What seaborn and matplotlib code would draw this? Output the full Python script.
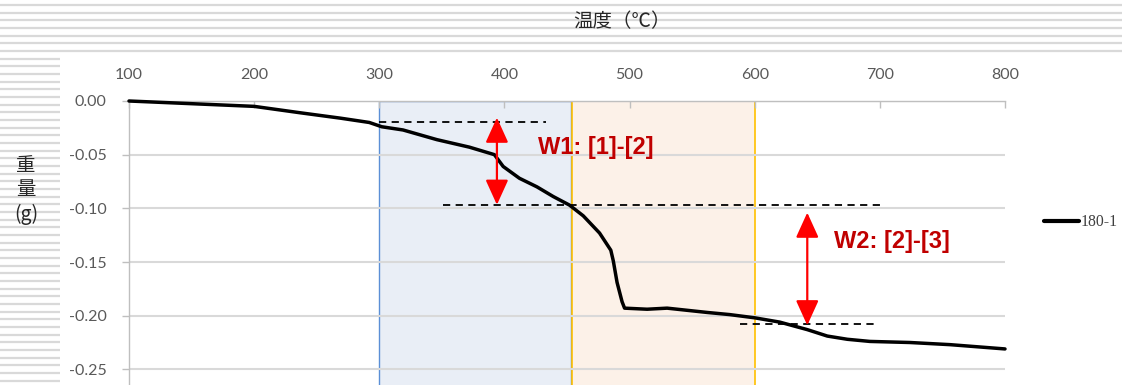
import numpy as np
import pandas as pd
import matplotlib
matplotlib.use("Agg")
import matplotlib.pyplot as plt
import seaborn as sns

# ---- data ----
temps = [100, 140, 200, 237, 269, 292, 302, 319, 346, 372, 392, 399, 412, 426, 439, 452,
         463, 476, 485, 487, 490, 494, 496, 514, 530, 562, 580, 600, 620, 642, 658, 674,
         692, 724, 756, 800]
weights = [0.000, -0.002, -0.005, -0.011, -0.016, -0.020, -0.024, -0.027, -0.036, -0.043,
           -0.050, -0.061, -0.072, -0.080, -0.089, -0.097, -0.107, -0.123, -0.139, -0.149,
           -0.169, -0.187, -0.193, -0.194, -0.193, -0.197, -0.199, -0.202, -0.206, -0.213,
           -0.219, -0.222, -0.224, -0.225, -0.227, -0.231]
series_name = "180-1"

x_ticks = [100, 200, 300, 400, 500, 600, 700, 800]
y_ticks = [0.00, -0.05, -0.10, -0.15, -0.20, -0.25]
grid_levels = [0.00, -0.05, -0.10, -0.15, -0.20, -0.25, -0.30]

# shaded temperature windows
span_start = [300, 454]
span_end = [453, 600]

# dashed reference levels
dash_y = [-0.0195, -0.0967, -0.208]
dash_x0 = [300, 351, 588]
dash_x1 = [433, 704, 696]

# double arrows and labels
arrow_x = [394, 642]
arrow_top = [-0.0155, -0.104]
arrow_bottom = [-0.0967, -0.209]
label_text = ["W1: [1]-[2]", "W2: [2]-[3]"]
label_x = [427, 663]
label_y = [-0.0437, -0.131]

# ---- styling ----
sns.set_style("white")
plt.rcParams['font.family'] = ['Lato', 'DejaVu Sans']

W, H = 1122, 385
fig = plt.figure(figsize=(W / 100, H / 100), dpi=100)

# background worksheet stripes
bg = fig.add_axes([0, 0, 1, 1], zorder=-5)
bg.set_xlim(0, W)
bg.set_ylim(H, 0)
bg.axis("off")
stripe_y = np.arange(5, H, 7.67)
for yy in stripe_y:
    x_end = W if yy < 54 else 60
    bg.plot([0, x_end], [yy, yy], color="#D9D9D9", lw=1.6, solid_capstyle="butt")

# main axes (bottom extends below the picture)
ax_left, ax_right = 129 / W, 1005 / W
ax_top = (H - 101) / H
ax_bottom = (H - 423) / H
ax = fig.add_axes([ax_left, ax_bottom, ax_right - ax_left, ax_top - ax_bottom])
ax.set_facecolor("none")

df = pd.DataFrame({"temp": temps, "weight": weights, "series": series_name})
sns.lineplot(data=df, x="temp", y="weight", hue="series", palette=["black"],
             lw=2.5, ax=ax, zorder=5, legend=True)
for ln in ax.lines:
    ln.set_clip_on(False)

ax.set_xlim(100, 800)
ax.set_ylim(-0.30, 0.0)

# shaded windows
ax.axvspan(span_start[0], span_end[0], facecolor="#E9EEF6", edgecolor="#5B8FD6", lw=1.0, zorder=0.2)
ax.axvspan(span_start[1], span_end[1], facecolor="#FCF1E8", edgecolor="#FFC000", lw=1.2, zorder=0.2)

# gridlines
for yv in grid_levels:
    ax.axhline(yv, color="#D9D9D9", lw=1.5, zorder=0.5)

# dashed lines
for y0, xa, xb in zip(dash_y, dash_x0, dash_x1):
    ax.plot([xa, xb], [y0, y0], color="black", lw=1.3, ls=(0, (4, 3)), zorder=6)

# arrows
for xa, yt, yb in zip(arrow_x, arrow_top, arrow_bottom):
    ax.annotate("", xy=(xa, yt), xytext=(xa, yb),
                arrowprops=dict(arrowstyle="<|-|>,head_length=1.1,head_width=0.5",
                                color="#FF0000", lw=1.6, shrinkA=0, shrinkB=0,
                                mutation_scale=14),
                zorder=7)

for t, xx, yy in zip(label_text, label_x, label_y):
    ax.text(xx, yy, t, color="#C00000", fontsize=17, fontweight="bold",
            family="Liberation Sans", ha="left", va="center", zorder=8)

# axes styling
ax.xaxis.tick_top()
ax.set_xticks(x_ticks)
ax.set_xticklabels([str(v) for v in x_ticks])
ax.set_yticks(y_ticks)
ax.set_yticklabels([f"{v:.2f}" for v in y_ticks])
ax.tick_params(axis="x", direction="in", length=5, width=1, color="#BFBFBF",
               pad=14, labelsize=11.5, labelcolor="#595959", top=True, bottom=False)
ax.tick_params(axis="y", direction="out", length=5, width=1, color="#BFBFBF",
               pad=11, labelsize=11.5, labelcolor="#595959", left=True)
for s in ["right", "bottom"]:
    ax.spines[s].set_visible(False)
for s in ["top", "left"]:
    ax.spines[s].set_color("#BFBFBF")
    ax.spines[s].set_linewidth(1.0)

# axis titles
ax.xaxis.set_label_position("top")
ax.set_xlabel("温度（℃）", fontsize=14, family=["Noto Sans CJK JP", "DejaVu Sans"])
ax.xaxis.set_label_coords((622 - 129) / 876, 1 + 79 / 322)
ax.xaxis.label.set_va("center")

ax.set_ylabel("重\n量\n(g)", fontsize=14, rotation=0, linespacing=1.2,
              family=["Noto Sans CJK JP", "DejaVu Sans"])
ax.yaxis.set_label_coords((26 - 129) / 876, (423 - 190) / 322)
ax.yaxis.label.set_ha("center")
ax.yaxis.label.set_va("center")

# legend
leg = ax.legend(loc="center left", bbox_to_anchor=(1044 / W, 1 - 222 / H),
                bbox_transform=fig.transFigure, frameon=False, borderpad=0,
                borderaxespad=0, handlelength=2.2, handletextpad=0.12,
                prop={"family": "Liberation Serif", "size": 11.3})
for h in leg.legend_handles:
    h.set_linewidth(3)
for txt in leg.get_texts():
    txt.set_color("#404040")
leg.set_title(None)

fig.savefig("out.png", dpi=100)
